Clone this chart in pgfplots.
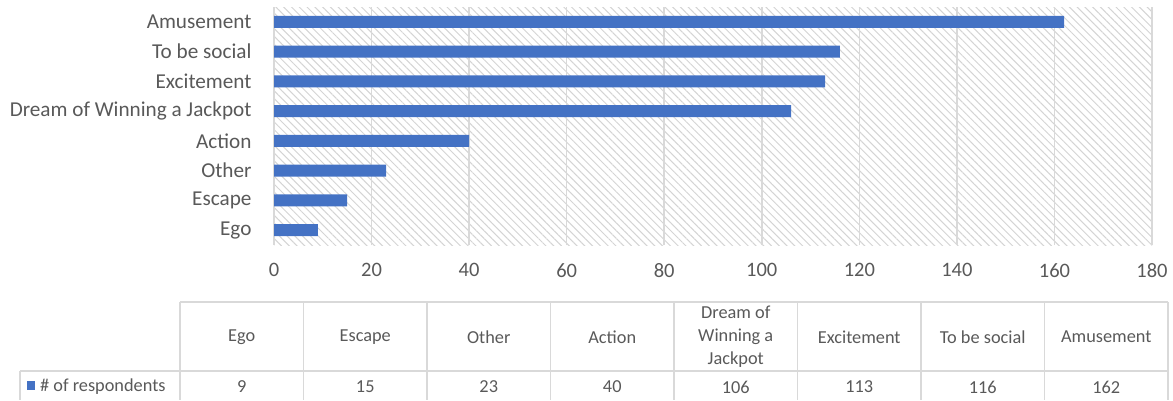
\documentclass[border=0pt]{standalone}
\usepackage{pgfplots}
\pgfplotsset{compat=1.18}
\usepackage{pgfplotstable}
\usepackage{fontspec}
\setmainfont{Carlito}
\usetikzlibrary{patterns.meta}
\definecolor{barblue}{HTML}{4472C4}
\definecolor{txt}{HTML}{595959}
\definecolor{gridc}{HTML}{D9D9D9}
\definecolor{hatch}{HTML}{D4D4D4}

\pgfplotstableread{
idx value
0 9
1 15
2 23
3 40
4 106
5 113
6 116
7 162
}\datatable

\begin{document}
\begin{tikzpicture}
\path[use as bounding box] (0pt,0pt) rectangle (1173pt,400pt);
\begin{axis}[
  at={(274pt,155pt)}, anchor=south west,
  scale only axis, width=878pt, height=238pt,
  xbar, bar width=12pt,
  xmin=0, xmax=180, ymin=-0.5, ymax=7.5,
  xtick={0,20,...,180},
  ytick={0,...,7},
  yticklabels={Ego,Escape,Other,Action,Dream of Winning a Jackpot,Excitement,To be social,Amusement},
  xmajorgrids, major grid style={gridc, line width=1.5pt},
  axis line style={draw=none},
  major tick length=0pt,
  xticklabel style={font=\fontsize{20.5}{24}\selectfont, text=txt, yshift=-15pt},
  yticklabel style={font=\fontsize{21.2}{24}\selectfont, text=txt, xshift=-19pt},
  /pgf/number format/assume math mode=true,
  axis background/.style={pattern={Lines[angle=-45,distance=5.5pt,line width=1pt]}, pattern color=hatch},
  clip=false,
]
\addplot[fill=barblue, draw=none] table[x=value,y=idx]{\datatable};
\end{axis}
% data table
\begin{scope}[x=1pt, y=1pt]
\begin{scope}[gridc, line width=1.5pt]
  \foreach \k in {0,...,8} {
    \draw ({180+\k*123.5}, 98) -- ({180+\k*123.5}, 0);
  }
  \draw (180,98) -- (1168,98);
  \draw (20,29) -- (1168,29);
  \draw (20,29) -- (20,0);
\end{scope}
\foreach \k/\name/\val in {0/Ego/9,1/Escape/15,2/Other/23,3/Action/40,4/{Dream of\\Winning a\\Jackpot}/106,5/Excitement/113,6/To be social/116,7/Amusement/162} {
  \node[text=txt, font=\fontsize{18.3}{23}\selectfont, align=center] at ({180+123.5*(\k+0.5)}, 63) {\name};
  \node[text=txt, font=\fontsize{18.3}{23}\selectfont] at ({180+123.5*(\k+0.5)}, 13) {\val};
}
\fill[barblue] (27,10) rectangle (35,19);
\node[text=txt, font=\fontsize{18.3}{23}\selectfont, anchor=west, inner sep=0pt] at (40,13) {\# of respondents};
\end{scope}
\end{tikzpicture}
\end{document}
